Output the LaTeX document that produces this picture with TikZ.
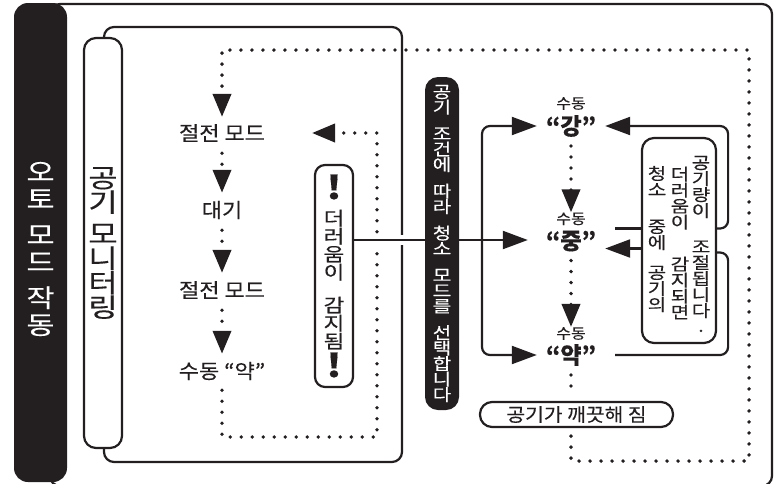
\documentclass[tikz,border=0pt]{standalone}
\usepackage{fontspec}
\setmainfont{Noto Sans CJK KR}[FakeBold=0.3]
\newfontfamily\widefont{Noto Sans CJK KR}[FakeStretch=1.1,FakeBold=0.3]
\newfontfamily\stackfamily{Noto Sans CJK KR}[FakeStretch=1.22,FakeBold=0.3]
\usetikzlibrary{arrows.meta,positioning}
\definecolor{ink}{RGB}{35,31,32}
\newcommand{\stackfont}[2]{\stackfamily\fontsize{#1}{#2}\selectfont\lineskiplimit=-30pt\lineskip=0pt}

\begin{document}
\begin{tikzpicture}[x=1pt,y=-1pt,
	every node/.style={inner sep=0pt,text=ink},
	edge/.style={draw=ink,line width=2.2pt},
	dots/.style={draw=ink,line width=3.8pt,line cap=round,dash pattern=on 0pt off 11pt},
	tip/.style={-{Triangle[length=23pt,width=18pt]}},
	htip/.style={-{Triangle[length=25pt,width=18pt]}},
	panel/.style={draw=ink,line width=2.2pt,fill=white,rounded corners=11pt},
	vlabel/.style={align=center,font=\stackfont{16.5}{16}},
	mode/.style={font=\widefont\fontsize{20}{20}\selectfont},
	level/.style={font=\fontsize{23}{23}\selectfont\bfseries,minimum width=68pt},
	tag/.style={font=\widefont\fontsize{14.5}{14.5}\selectfont}]
	\useasboundingbox (0,0) rectangle (776,483);
	\clip (0,0) rectangle (776,483);
	\draw [ink,line width=2.2pt,rounded corners=10pt] (50,4) rectangle (772,486);
	\fill [ink,rounded corners=14pt] (14,3) rectangle (67,482);
	\node [text=white,align=center,font=\stackfont{25}{27}] (automode) at (40.5,249) {오\\토\\[9pt]모\\드\\[9pt]작\\동};
	\draw [ink,line width=2.2pt,rounded corners=10pt] (104,27) rectangle (402,462);
	\node [panel,minimum width=38pt,minimum height=410pt,rounded corners=12pt,align=center,font=\stackfont{26}{24.5}] (monitor) at (103,243) {공\\기\\[7pt]모\\니\\터\\링};

	\node [mode] (save1) at (222,133) {절전 모드};
	\node [mode] (standby) at (222,210) {대기};
	\node [mode] (save2) at (222,290) {절전 모드};
	\node [mode] (manlow) at (222,371) {수동 “약”};
	\node [panel,minimum width=38pt,minimum height=222pt,rounded corners=10pt,align=center,font=\stackfont{18.5}{18}] (dirty) at (334,276) {{\bfseries\fontsize{32}{32}\selectfont !}\\[8pt]더\\러\\움\\이\\[15pt]감\\지\\됨\\[11pt]{\bfseries\fontsize{32}{32}\selectfont !}};

	\node [level] (strong) at (571,126) {“강”};
	\node [tag,above=5pt of strong] (strongtag) {수동};
	\node [level] (medium) at (571,241) {“중”};
	\node [tag,above=5pt of medium] (mediumtag) {수동};
	\node [level] (weak) at (571,355) {“약”};
	\node [tag,above=4pt of weak] (weaktag) {수동};
	\node [panel,minimum width=74pt,minimum height=205pt,rounded corners=12pt] (note) at (679,240.5) {};
	\node [vlabel] (noteA) at (657,239) {청\\소\\[21pt]중\\에\\[14pt]공\\기\\의};
	\node [vlabel] (noteB) at (680,243) {더\\러\\움\\이\\[26pt]감\\지\\되\\면};
	\node [vlabel] (noteC) at (701,244) {공\\기\\량\\이\\[20pt]조\\절\\됩\\니\\다\\[-1pt].};
	\node [panel,minimum width=193pt,minimum height=25pt,rounded corners=12pt,font=\widefont\fontsize{18.5}{18.5}\selectfont] (clean) at (576.5,414.5) {공기가 깨끗해 짐};

	\coordinate (loopse) at (749,461);
	\coordinate (loopnw) at (222,50);
	\coordinate (loopsw) at (377,437);
	\coordinate (backtip) at (312,133);
	\coordinate (fork) at (482,240);

	\draw [dots,tip,shorten <=11pt,shorten >=8pt] (save1) -- (standby);
	\draw [dots,tip,shorten <=11pt,shorten >=8pt] (standby) -- (save2);
	\draw [dots,tip,shorten <=11pt,shorten >=8pt] (save2) -- (manlow);
	\draw [dots,tip,shorten <=10pt] (manlow) |- (loopsw) |- (backtip);
	\draw [dots,tip,shorten <=9pt] (strong) -- (mediumtag);
	\draw [dots,tip,shorten <=9pt] (medium) -- (weaktag);
	\draw [dots,shorten <=9pt,shorten >=4pt] (weak) -- (weak |- clean.north);
	\draw [dots,tip,shorten <=8pt,shorten >=7pt] (weak |- clean.south) |- (loopse) |- (loopnw) -- (save1);

	\draw [white,line width=10pt,shorten <=4pt] ([yshift=36pt]dirty.east) -- (fork);
	\draw [edge,htip,shorten >=9pt] ([yshift=36pt]dirty.east) -- ([yshift=36pt]dirty.east -| medium.west);
	\draw [edge,htip,rounded corners=8pt] (fork) |- (strong.west);
	\draw [edge,htip,rounded corners=8pt] (fork) |- (weak.west);
	\node [fill=ink,rounded corners=13pt,minimum width=34pt,minimum height=333pt,text=white,align=center,font=\stackfont{16.5}{15.5}] (choose) at (442,243.5) {공\\기\\[11pt]조\\건\\에\\[11pt]따\\라\\[11pt]청\\소\\[11pt]모\\드\\를\\[11pt]선\\택\\합\\니\\다};

	\draw [edge,shorten >=10pt] ([yshift=12pt]note.west) -- ([yshift=12pt]note.west -| medium.east);
	\draw [edge,htip] ([yshift=-8pt]note.west) -- ([yshift=-8pt]note.west -| medium.east);
	\draw [edge,htip,rounded corners=8pt] ([yshift=12pt]note.east) -- ++(11pt,0) |- (strong.east);
	\draw [edge,rounded corners=8pt,shorten <=10pt] (weak.east) -| ([xshift=11pt,yshift=-12pt]note.east) -- ([yshift=-12pt]note.east);
\end{tikzpicture}
\end{document}
